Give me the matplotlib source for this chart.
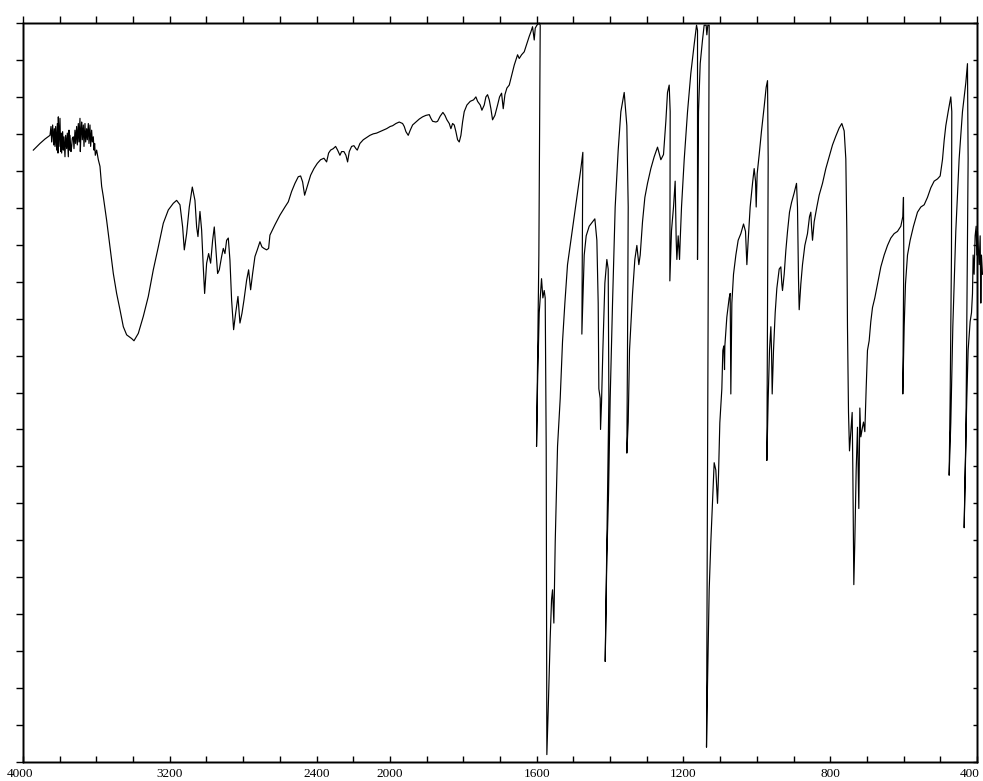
import numpy as np
import matplotlib
matplotlib.use("Agg")
import matplotlib.pyplot as plt
import matplotlib.transforms as mtransforms

# IR spectrum: wavenumber (cm-1) and transmittance (%)
wn_noise = [3943.7, 3907.4, 3880.2, 3852.9, 3847.5, 3843.8, 3838.4, 3832.9, 3829.3, 3825.7,
            3822.0, 3816.6, 3812.9, 3809.3, 3807.5, 3803.9, 3798.4, 3794.8, 3791.1, 3789.3,
            3783.9, 3780.2, 3776.6, 3771.2, 3767.5, 3762.1, 3758.4, 3753.0, 3749.4, 3745.7,
            3743.9, 3738.5, 3734.8, 3731.2, 3725.8, 3722.1, 3716.7, 3713.0, 3707.6, 3704.0,
            3698.5, 3694.9, 3689.4, 3687.6, 3684.0, 3680.3, 3676.7, 3671.3, 3667.6, 3662.2,
            3658.5, 3653.1, 3649.4, 3644.0, 3640.4, 3634.9, 3631.3, 3625.8, 3622.2, 3616.8,
            3613.1, 3609.5, 3605.9, 3598.6, 3589.5, 3580.4]
tr_noise = [82.8, 83.7, 84.3, 84.8, 86.0, 83.9, 86.2, 83.5, 85.7, 83.3,
            86.0, 82.8, 86.4, 82.4, 87.3, 83.3, 87.1, 82.6, 85.1, 82.4,
            85.3, 82.8, 84.6, 81.9, 84.8, 83.0, 85.1, 81.9, 85.5, 82.8,
            84.8, 82.6, 83.3, 84.4, 84.6, 83.0, 85.5, 83.7, 86.0, 83.5,
            86.4, 83.9, 87.1, 82.6, 85.1, 86.6, 84.2, 86.2, 83.3, 86.4,
            83.9, 85.7, 84.2, 86.4, 83.7, 86.2, 83.3, 85.5, 83.9, 84.6,
            82.8, 83.7, 82.1, 82.8, 81.5, 80.6]

wn_high = [3571.3, 3562.2, 3544.1, 3525.9, 3507.7, 3489.6,
           3471.4, 3453.2, 3435.0, 3407.8, 3395.1, 3371.5, 3344.3, 3317.0, 3289.8, 3262.5,
           3235.3, 3208.0, 3180.8, 3162.6, 3144.4, 3129.9, 3120.8, 3108.1, 3093.6, 3077.2,
           3062.7, 3053.6, 3046.3, 3035.4, 3026.4, 3017.4, 3010.0, 2999.1, 2988.2, 2977.3,
           2966.4, 2957.4, 2948.3, 2939.2, 2930.1, 2917.4, 2908.3, 2899.2, 2890.1, 2881.0,
           2872.0, 2862.9, 2852.0, 2841.1, 2828.3, 2817.5, 2806.6, 2795.6, 2781.1, 2770.2,
           2759.3, 2748.4, 2735.7, 2723.0, 2708.5, 2697.6, 2686.7, 2672.1, 2661.2,
           2654.0, 2626.7, 2599.5, 2572.2, 2554.0, 2535.9, 2517.7, 2499.5, 2486.8, 2475.9,
           2465.0, 2450.5, 2432.3, 2414.2, 2396.0, 2377.8, 2359.7, 2345.1, 2334.2, 2323.3,
           2308.8, 2296.1, 2285.2, 2272.5, 2263.4, 2250.7, 2239.8, 2230.7, 2221.6, 2208.9,
           2196.2, 2185.3, 2178.0, 2163.5, 2145.3, 2127.2, 2109.0, 2090.8, 2072.7, 2054.5,
           2036.4, 2018.2]
tr_high = [77.9, 76.5, 73.3, 69.7, 66.1, 63.4,
           61.2, 58.9, 57.8, 57.3, 57.0, 58.0, 60.3, 63.0, 66.6, 69.7,
           72.9, 74.7, 75.6, 76.0, 75.4, 72.4, 69.3, 71.5, 75.1, 77.8,
           76.0, 72.4, 71.1, 74.5, 72.0, 67.0, 63.4, 67.5, 68.8, 67.5,
           70.6, 72.4, 69.3, 66.1, 66.6, 68.4, 69.5, 68.8, 70.6, 70.9,
           67.9, 62.5, 58.5, 60.7, 63.0, 59.4, 60.7, 62.5, 65.2, 66.6,
           63.9, 66.1, 68.4, 69.3, 70.4, 69.7, 69.5, 69.3, 69.5,
           71.3, 72.7, 74.0, 75.1, 75.8, 77.2, 78.3, 79.2, 79.3, 78.5,
           76.7, 77.9, 79.4, 80.3, 81.0, 81.5, 81.7, 81.2, 82.4, 82.8,
           83.0, 83.3, 82.8, 82.1, 82.6, 82.6, 82.1, 81.2, 82.6, 83.3,
           83.4, 83.0, 82.8, 83.7, 84.2, 84.5, 84.8, 85.0, 85.1, 85.3,
           85.5, 85.7]

wn_mid = [1999.1, 1992.7, 1983.6, 1974.6, 1965.5, 1961.0, 1956.4, 1950.1, 1944.6, 1938.2,
          1929.2, 1920.1, 1911.0, 1901.9, 1892.8, 1888.3, 1883.7, 1874.7, 1870.1, 1862.9,
          1855.6, 1850.1, 1844.7, 1838.3, 1833.8, 1829.2, 1824.7, 1820.2, 1815.6, 1811.1,
          1806.5, 1802.0, 1797.5, 1790.2, 1781.1, 1772.0, 1765.7, 1761.1, 1753.9, 1749.3,
          1743.0, 1738.4, 1733.9, 1729.3, 1724.8, 1720.3, 1713.9, 1706.6, 1701.2, 1695.7,
          1691.2, 1686.6, 1681.2, 1674.8, 1670.3, 1665.8, 1661.2, 1656.7, 1652.1, 1647.6,
          1641.2, 1634.0, 1629.4, 1624.9, 1620.3, 1615.8, 1611.3, 1606.7, 1604.0, 1599.5,
          1593.1]
tr_mid = [86.0, 86.1, 86.4, 86.6, 86.4, 86.0, 85.3, 84.8, 85.5, 86.2,
          86.6, 87.0, 87.3, 87.5, 87.6, 87.1, 86.7, 86.6, 86.7, 87.4,
          87.9, 87.5, 86.9, 86.4, 85.7, 86.4, 86.2, 85.3, 84.2, 83.9,
          84.8, 86.6, 88.0, 88.9, 89.4, 89.6, 90.0, 89.4, 88.9, 88.2,
          88.9, 90.0, 90.3, 89.6, 88.4, 86.9, 87.5, 88.9, 90.0, 90.5,
          88.4, 90.3, 91.2, 91.6, 92.5, 93.4, 94.3, 95.0, 95.7, 95.2,
          95.7, 96.1, 96.8, 97.5, 98.2, 98.8, 99.5, 97.7, 99.3, 99.7,
          100.0]

wn_finger = [1590.4, 1594.1, 1597.7, 1600.4, 1597.7, 1593.1, 1586.8, 1583.2, 1579.5, 1576.8,
             1574.1, 1572.3, 1568.6, 1563.2, 1559.5, 1556.8, 1553.2, 1549.5, 1543.2, 1535.9,
             1529.6, 1523.2, 1516.0, 1506.9, 1497.8, 1488.7, 1479.6, 1474.2, 1476.9, 1470.5,
             1465.1, 1456.9, 1447.8, 1441.5, 1436.0, 1432.4, 1430.6, 1426.9, 1426.0, 1423.3,
             1419.7, 1414.2, 1408.8, 1405.1, 1403.3, 1408.8, 1413.3, 1408.8, 1404.2, 1399.7,
             1393.3, 1386.1, 1377.9, 1370.6, 1361.5, 1354.3, 1350.6, 1352.5, 1354.3, 1350.6,
             1347.0, 1338.8, 1332.5, 1327.0, 1321.6, 1317.9, 1311.6, 1305.2, 1298.0, 1288.9,
             1279.8, 1270.7, 1261.6, 1254.4, 1248.0, 1243.5, 1238.9, 1236.2, 1237.1, 1232.6,
             1227.1, 1222.6, 1219.8, 1218.0, 1214.4, 1210.7, 1208.9, 1205.3, 1198.0, 1188.9,
             1179.9, 1170.8, 1164.4, 1161.7, 1161.7, 1159.0, 1154.4, 1148.1, 1143.6, 1138.1,
             1136.3, 1133.6, 1129.9, 1132.6, 1137.2, 1134.5, 1129.9, 1125.4, 1120.0, 1116.3,
             1111.8, 1107.2, 1104.5, 1100.9, 1095.4, 1092.7, 1090.0, 1088.1, 1087.2, 1081.8,
             1075.4, 1072.7, 1070.9]
tr_finger = [99.7, 68.6, 54.4, 42.7, 51.1, 60.8, 65.4, 62.8, 63.8, 62.8,
             42.7, 1.0, 7.1, 16.8, 22.0, 23.3, 18.8, 29.8, 42.7, 49.2,
             56.9, 62.1, 67.3, 70.6, 73.8, 77.0, 80.3, 82.5, 57.9, 68.6,
             71.2, 72.5, 73.1, 73.5, 70.6, 62.1, 50.5, 49.2, 45.0, 48.6,
             55.7, 64.8, 68.0, 66.7, 49.2, 29.8, 13.6, 27.8, 36.3, 49.2,
             62.1, 75.1, 82.8, 88.0, 90.6, 86.1, 75.1, 55.7, 41.8, 46.0,
             55.7, 63.4, 68.0, 69.9, 67.3, 68.6, 73.1, 76.4, 78.3, 80.3,
             81.9, 83.2, 81.5, 82.2, 86.7, 90.6, 91.6, 88.0, 65.1, 71.9,
             75.1, 78.6, 70.6, 68.0, 71.2, 68.0, 70.6, 75.1, 81.5, 88.0,
             93.2, 97.1, 99.7, 99.0, 68.0, 88.0, 94.5, 97.7, 99.7, 99.7,
             98.4, 99.7, 99.7, 62.1, 2.0, 10.4, 23.3, 29.8, 36.3, 40.5,
             39.5, 35.0, 38.8, 45.9, 50.5, 55.7, 56.3, 53.1, 56.3, 60.2,
             62.8, 63.4, 49.8]

wn_low = [1068.1, 1063.6, 1057.2, 1050.9, 1043.6, 1036.3, 1030.9, 1027.2, 1023.6, 1018.2,
          1011.8, 1007.3, 1003.6, 1001.8, 999.1, 993.6, 987.3, 980.0, 974.6, 970.9,
          969.1, 970.9, 972.7, 969.1, 965.5, 961.8, 960.0, 958.2, 954.6, 950.0,
          945.5, 939.1, 934.6, 931.9, 930.1, 925.5, 921.0, 916.4, 911.0, 905.5,
          898.3, 891.9, 889.2, 886.5, 884.6, 880.1, 875.6, 869.2, 862.0, 856.5,
          852.9, 851.0, 848.3, 843.8, 836.5, 830.2, 821.1, 812.0, 802.9, 793.8,
          784.7, 775.6, 768.4, 762.0, 757.5, 754.8, 753.0, 750.2, 747.5, 743.9,
          740.2, 738.4, 735.7, 733.0, 729.3, 725.7, 722.1, 719.3, 716.6, 712.1,
          709.3, 705.7, 702.1, 698.5, 693.9, 689.4, 684.8, 678.5, 671.2, 662.1,
          653.0, 643.9, 634.9, 625.8, 616.7, 607.6, 602.2, 600.4, 599.5, 602.2,
          598.5, 594.9, 589.4, 582.2, 573.1, 562.2, 553.1, 544.0, 535.0, 525.9,
          516.8, 507.7, 500.4, 494.1, 489.5, 485.0, 478.6, 471.4, 468.7, 469.6,
          473.2, 475.9, 471.4, 465.9, 457.8, 448.7, 439.6, 430.5, 426.0, 424.2,
          427.8, 430.5, 435.0, 432.3, 427.8, 424.2, 418.7, 415.0, 412.3, 410.5,
          407.8, 405.1, 402.3, 400.5, 398.7, 394.2, 391.4, 389.6, 387.8, 385.1]
tr_low = [62.1, 66.0, 68.6, 70.6, 71.5, 72.8, 71.8, 67.3, 70.6, 75.1,
          78.3, 80.3, 78.6, 75.1, 79.6, 82.2, 85.4, 88.7, 91.3, 92.2,
          81.5, 62.1, 40.8, 49.2, 55.7, 58.9, 55.7, 49.8, 55.7, 60.8,
          64.1, 66.7, 67.0, 64.7, 63.8, 66.0, 69.2, 71.8, 74.4, 75.7,
          77.0, 78.3, 75.1, 65.4, 61.2, 64.7, 67.3, 69.9, 71.5, 73.8,
          74.4, 72.5, 70.6, 73.1, 75.1, 76.7, 78.3, 80.3, 81.9, 83.5,
          84.7, 85.8, 86.4, 85.4, 81.6, 71.8, 58.9, 47.3, 42.1, 44.7,
          47.3, 39.5, 24.0, 29.8, 39.5, 45.3, 34.3, 47.9, 44.0, 45.3,
          46.0, 44.7, 50.5, 55.7, 57.0, 59.6, 61.5, 62.8, 64.7, 67.0,
          68.6, 69.9, 70.9, 71.5, 71.8, 72.5, 73.8, 76.4, 68.6, 49.8,
          58.9, 64.7, 68.6, 70.6, 72.5, 74.4, 75.1, 75.4, 76.4, 77.7,
          78.6, 78.9, 79.3, 81.5, 84.1, 86.1, 88.0, 90.0, 88.0, 68.6,
          49.2, 38.8, 45.9, 58.9, 71.8, 81.6, 88.0, 91.9, 94.5, 81.6,
          58.9, 42.7, 31.7, 39.5, 49.2, 55.7, 59.6, 60.8, 63.4, 68.6,
          66.0, 71.2, 72.5, 68.6, 71.8, 67.3, 71.2, 62.1, 68.6, 66.0]

label_wn = [4000, 3200, 2400, 2000, 1600, 1200, 800, 400]
tick_wn = list(range(4000, 2000, -200)) + list(range(2000, 399, -100))
tick_tr = list(range(0, 101, 5))


# scale changes at 2000 cm-1: 200 per division above, 100 per division below
def forward(w):
    w = np.asarray(w, dtype=float)
    return np.where(w >= 2000, 20 + (w - 2000) / 200, w / 100)


def inverse(u):
    u = np.asarray(u, dtype=float)
    return np.where(u >= 20, 2000 + (u - 20) * 200, u * 100)


wn = wn_noise + wn_high + wn_mid + wn_finger + wn_low
tr = tr_noise + tr_high + tr_mid + tr_finger + tr_low

fig = plt.figure(figsize=(9.83, 7.81), dpi=100)
ax = fig.add_axes([23 / 983, 19 / 781, 954 / 983, 739 / 781])
ax.plot(wn, tr, color="black", lw=0.85, clip_on=False)
ax.set_xscale("function", functions=(forward, inverse))
ax.set_xlim(4000, 400)
ax.set_ylim(0, 100)
ax.set_xticks(tick_wn)
ax.set_xticklabels([str(t) if t in label_wn else "" for t in tick_wn],
                   fontfamily="Liberation Serif", fontsize=9.5)
ax.set_yticks(tick_tr)
ax.set_yticklabels([])
ax.tick_params(axis="x", direction="in", length=4, width=1, pad=4.5)
ax.tick_params(axis="y", direction="out", length=5, width=1)

# keep the last label inside the picture, first one a bit to the left
last = ax.get_xticklabels()[-1]
last.set_transform(last.get_transform()
                   + mtransforms.ScaledTranslation(-5 / 72, 0, fig.dpi_scale_trans))
first = ax.get_xticklabels()[0]
first.set_transform(first.get_transform()
                    + mtransforms.ScaledTranslation(-2 / 72, 0, fig.dpi_scale_trans))

# top ticks point out, right ticks point in
top = ax.twiny()
top.set_xscale("function", functions=(forward, inverse))
top.set_xlim(4000, 400)
top.set_xticks(tick_wn)
top.set_xticklabels([])
top.tick_params(axis="x", direction="out", length=5, width=1)

right = ax.twinx()
right.set_ylim(0, 100)
right.set_yticks(tick_tr)
right.set_yticklabels([])
right.tick_params(axis="y", direction="in", length=3, width=1)

for a in (ax, top, right):
    for s in a.spines.values():
        s.set_linewidth(1)

fig.savefig("out.png", dpi=100)
